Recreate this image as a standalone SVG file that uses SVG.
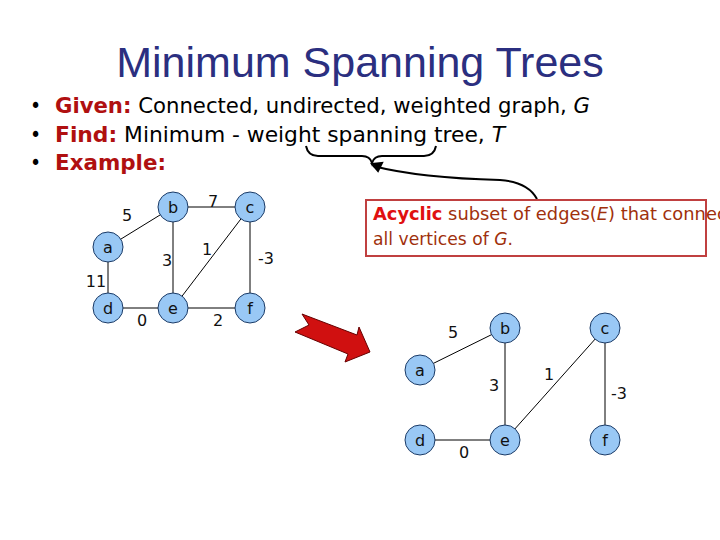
<svg xmlns="http://www.w3.org/2000/svg" width="720" height="540" viewBox="0 0 720 540">
<style>
.n circle{fill:#99c8f5;stroke:#1a3a66;stroke-width:1}
.n text{font-family:"DejaVu Sans",Verdana,sans-serif;font-size:16px;text-anchor:middle;fill:#111}
.w{font-family:"DejaVu Sans",Verdana,sans-serif;font-size:16px;fill:#111;text-anchor:middle}
.e line{stroke:#000;stroke-width:1}
.b{font-family:"DejaVu Sans Condensed","DejaVu Sans",sans-serif;font-size:21px;fill:#000}
.r{fill:#b01010;font-weight:bold}
</style>
<rect width="720" height="540" fill="#fff"/>
<text x="360" y="77" text-anchor="middle" font-family="Liberation Sans,Arial,sans-serif" font-size="43" fill="#2b2f80">Minimum Spanning Trees</text>
<g class="b">
<text x="30" y="113">•</text><text x="30" y="142">•</text><text x="30" y="170">•</text>
<text x="55" y="113" textLength="535" lengthAdjust="spacingAndGlyphs"><tspan class="r">Given:</tspan> Connected, undirected, weighted graph, <tspan font-style="italic">G</tspan></text>
<text x="55" y="142" textLength="450" lengthAdjust="spacingAndGlyphs"><tspan class="r">Find:</tspan>  Minimum - weight spanning tree, <tspan font-style="italic">T</tspan></text>
<text x="55" y="170" textLength="111" lengthAdjust="spacingAndGlyphs"><tspan class="r">Example:</tspan></text>
</g>
<g id="brace" fill="none" stroke="#000" stroke-width="2">
<path d="M306,146 Q308,156 318,156 L362,156 Q370,156 372,163 Q374,156 382,156 L424,156 Q434,156 436,146"/>
<path d="M373,166 Q420,178 500,180 Q528,182 537,199"/>
<path d="M372,164 L382,163 L378,171 Z" fill="#000"/>
</g>
<g id="note">
<rect x="366" y="200" width="340" height="56" fill="#fff" stroke="#c04040" stroke-width="2"/>
<text x="373" y="220" font-family="DejaVu Sans,Verdana,sans-serif" font-size="17" fill="#a0300c" textLength="370" lengthAdjust="spacingAndGlyphs"><tspan fill="#e01010" font-weight="bold">Acyclic</tspan> subset of edges(<tspan font-style="italic">E</tspan>) that connects</text>
<text x="373" y="245" font-family="DejaVu Sans,Verdana,sans-serif" font-size="17" fill="#a0300c" textLength="140" lengthAdjust="spacingAndGlyphs">all vertices of <tspan font-style="italic">G</tspan>.</text>
</g>
<path id="bigarrow" d="M302,314 L357,335 L359,327 L370,352 L345,362 L348,354 L295,332 L309,325 Z" fill="#d01010" stroke="#600" stroke-width="1"/>
<g id="connectors" class="e">
<line x1="108" y1="247" x2="173" y2="207"/><line x1="173" y1="207" x2="250" y2="207"/>
<line x1="173" y1="207" x2="173" y2="308"/><line x1="250" y1="207" x2="173" y2="308"/>
<line x1="250" y1="207" x2="250" y2="308"/><line x1="108" y1="247" x2="108" y2="308"/>
<line x1="108" y1="308" x2="173" y2="308"/><line x1="173" y1="308" x2="250" y2="308"/>
<line x1="420" y1="370" x2="505" y2="328"/><line x1="505" y1="328" x2="505" y2="440"/>
<line x1="605" y1="328" x2="505" y2="440"/><line x1="605" y1="328" x2="605" y2="440"/>
<line x1="420" y1="440" x2="505" y2="440"/>
</g>
<g>
<text class="w" x="127" y="221">5</text><text class="w" x="213" y="207">7</text>
<text class="w" x="167" y="266">3</text><text class="w" x="207" y="255">1</text>
<text class="w" x="266" y="264">-3</text><text class="w" x="96" y="287">11</text>
<text class="w" x="142" y="326">0</text><text class="w" x="218" y="326">2</text>
<text class="w" x="453" y="338">5</text><text class="w" x="494" y="391">3</text>
<text class="w" x="549" y="380">1</text><text class="w" x="619" y="399">-3</text>
<text class="w" x="464" y="458">0</text>
</g>
<g id="a1" class="n"><circle cx="108" cy="247" r="15"/><text x="108" y="253">a</text></g>
<g id="b1" class="n"><circle cx="173" cy="207" r="15"/><text x="173" y="213">b</text></g>
<g id="c1" class="n"><circle cx="250" cy="207" r="15"/><text x="250" y="213">c</text></g>
<g id="d1" class="n"><circle cx="108" cy="308" r="15"/><text x="108" y="314">d</text></g>
<g id="e1" class="n"><circle cx="173" cy="308" r="15"/><text x="173" y="314">e</text></g>
<g id="f1" class="n"><circle cx="250" cy="308" r="15"/><text x="250" y="314">f</text></g>
<g id="a2" class="n"><circle cx="420" cy="370" r="15"/><text x="420" y="376">a</text></g>
<g id="b2" class="n"><circle cx="505" cy="328" r="15"/><text x="505" y="334">b</text></g>
<g id="c2" class="n"><circle cx="605" cy="328" r="15"/><text x="605" y="334">c</text></g>
<g id="d2" class="n"><circle cx="420" cy="440" r="15"/><text x="420" y="446">d</text></g>
<g id="e2" class="n"><circle cx="505" cy="440" r="15"/><text x="505" y="446">e</text></g>
<g id="f2" class="n"><circle cx="605" cy="440" r="15"/><text x="605" y="446">f</text></g>
</svg>
